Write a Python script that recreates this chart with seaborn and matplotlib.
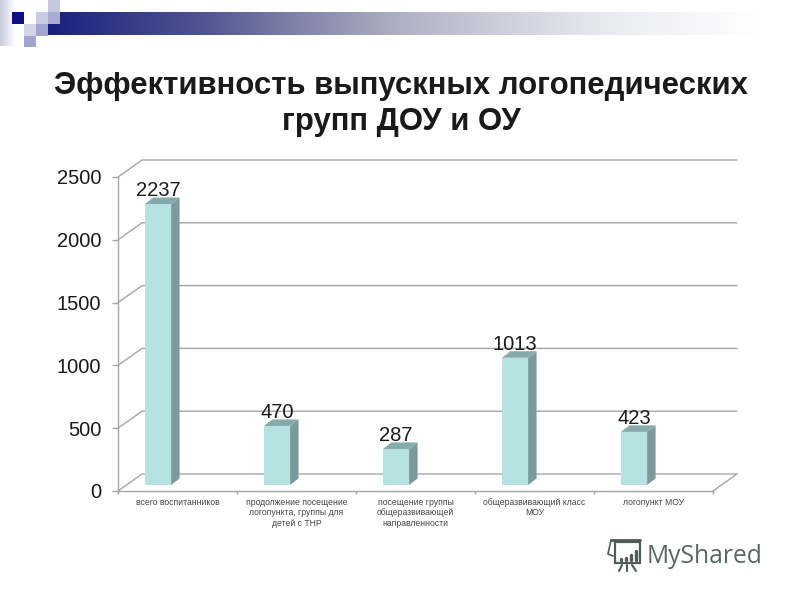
import numpy as np
import seaborn as sns
import matplotlib
matplotlib.use("Agg")
import matplotlib.pyplot as plt
from matplotlib.colors import to_rgb
from matplotlib.patches import Polygon, Rectangle

# data
categories = ["всего воспитанников",
              "продолжение посещение\nлогопункта, группы для\nдетей с ТНР",
              "посещение группы\nобщеразвивающей\nнаправленности",
              "общеразвивающий класс\nМОУ",
              "логопункт МОУ"]
values = [2237, 470, 287, 1013, 423]
y_ticks = [0, 500, 1000, 1500, 2000, 2500]
title = "Эффективность выпускных логопедических\nгрупп ДОУ и ОУ"

sns.set_style("white")
plt.rcParams['font.family'] = ['Liberation Sans', 'DejaVu Sans']

W, H = 800, 600
fig = plt.figure(figsize=(8, 6), dpi=100, facecolor='white')

def box(x0, y_bottom, w, h):
    return [x0 / W, 1 - y_bottom / H, w / W, h / H]

# header decoration and watermark, in pixels
deco = fig.add_axes([0, 0, 1, 1], zorder=0)

stops_x = [48, 200, 300, 400, 530, 620, 760]
stops_c = np.array([to_rgb(c) for c in ['#1a1f80', '#4f5390', '#8284a9', '#b1b1c4', '#d6d6e3', '#ecedf1', '#ffffff']])
xs = np.arange(48, 800)
grad = np.stack([np.interp(xs, stops_x, stops_c[:, i]) for i in range(3)], axis=-1)[None, :, :]
deco.imshow(grad, extent=[48, 800, 35, 12], aspect='auto', zorder=1)

side = np.linspace(0.80, 1, 64)[None, :, None] * np.ones((1, 64, 3))
side[..., 2] = np.minimum(side[..., 2] + 0.05, 1)
deco.imshow(side, extent=[0, 16, 46, 0], aspect='auto', zorder=1)
deco.set_xlim(0, W)
deco.set_ylim(H, 0)
deco.axis('off')

squares = [(12, 12, 12, 12, '#0c0f80'), (48, 0, 12, 12, '#c6c8e0'),
           (36, 12, 12, 12, '#c9cbe2'), (48, 12, 12, 12, '#a9acd0'),
           (24, 24, 12, 12, '#d2d4e8'), (36, 24, 12, 12, '#a1a4cd'),
           (24, 36, 12, 11, '#a2a4d0')]
for x, y, w, h, c in squares:
    deco.add_patch(Rectangle((x, y), w, h, color=c, lw=0, zorder=2))

logo = '#4d5b59'
deco.add_patch(Rectangle((615, 542), 25, 21, fill=False, ec=logo, lw=1.6, zorder=2))
deco.plot([611, 640], [540, 540], color=logo, lw=2, zorder=2)
deco.plot([611, 608, 613], [540, 554, 556], color=logo, lw=1.2, zorder=2)
for x, top in zip([621, 626, 631, 636], [559, 558, 555, 551]):
    deco.plot([x, x], [560, top], color=logo, lw=2.4, zorder=2)
deco.plot([622, 619], [565, 571], color=logo, lw=1.5, zorder=2)
deco.plot([627, 627], [565, 571], color=logo, lw=1.5, zorder=2)
deco.plot([632, 636], [565, 571], color=logo, lw=1.5, zorder=2)
deco.text(647, 563, "MyShared", family='Open Sans', fontsize=17.7, color='#5a6666',
          ha='left', va='baseline', zorder=2)

fig.text(401 / W, 1 - 104 / H, title, ha='center', va='center', fontsize=22.4,
         fontweight='bold', color='#1a1a1a', linespacing=1.25)

# front plane of the chart: axis, ticks, labels
grid = '#a6a6a6'
ax = fig.add_axes(box(118, 491, 595, 314), zorder=1)
ax.patch.set_alpha(0)
ax.set_xlim(-0.5, 4.5)
ax.set_ylim(0, 2500)
sns.despine(ax=ax, top=True, right=True)
for s in ['left', 'bottom']:
    ax.spines[s].set_color(grid)
    ax.spines[s].set_linewidth(1.0)
ax.set_yticks(y_ticks, [str(t) for t in y_ticks])
ax.tick_params(axis='y', length=4, width=1.0, color=grid, pad=8, labelsize=14.5,
               labelcolor='#1a1a1a', left=True)
ax.set_xticks(range(len(categories)), categories)
ax.tick_params(axis='x', which='major', length=0, pad=5, labelsize=6.2, labelcolor='#444444')
ax.set_xticks(np.arange(-0.5, 5), minor=True)
ax.tick_params(axis='x', which='minor', length=2, width=1, color=grid, bottom=True, direction='out')

# back wall lines, offset from the front plane
wall_dx = 24 / 119
wall_dy = 17 / (314 / 2500)
for t in y_ticks:
    ax.plot([-0.5, -0.5 + wall_dx, 4.5 + wall_dx],
            [t, t + wall_dy, t + wall_dy],
            color=grid, lw=1.0, clip_on=False, zorder=1)
ax.plot([4.5, 4.5 + wall_dx], [0, wall_dy], color=grid, lw=1.0, clip_on=False, zorder=1)

# bars sit a little behind the front plane and left of the category centre
ax_bar = fig.add_axes(box(118 - 19.5, 491 - 6, 595, 314), zorder=2)
ax_bar.patch.set_alpha(0)
sns.barplot(x=categories, y=values, ax=ax_bar, width=0.22, color='#b6e2e2',
            saturation=1, linewidth=0)
ax_bar.set_xlim(-0.5, 4.5)
ax_bar.set_ylim(0, 2500)
ax_bar.axis('off')

depth_x = 8.5 / 119
depth_y = 6.5 / (314 / 2500)
for bar in ax_bar.patches:
    x0, x1 = bar.get_x(), bar.get_x() + bar.get_width()
    top = bar.get_height()
    ax_bar.add_patch(Polygon([(x1, 0), (x1 + depth_x, depth_y), (x1 + depth_x, top + depth_y), (x1, top)],
                             closed=True, fc='#7b9a9c', lw=0, clip_on=False))
    ax_bar.add_patch(Polygon([(x0, top), (x0 + depth_x, top + depth_y), (x1 + depth_x, top + depth_y), (x1, top)],
                             closed=True, fc='#86a9a9', lw=0, clip_on=False))

ax_bar.bar_label(ax_bar.containers[0], labels=[str(v) for v in values], padding=3,
                 fontsize=14.5, color='#1a1a1a')

fig.savefig("out.png", dpi=100)
